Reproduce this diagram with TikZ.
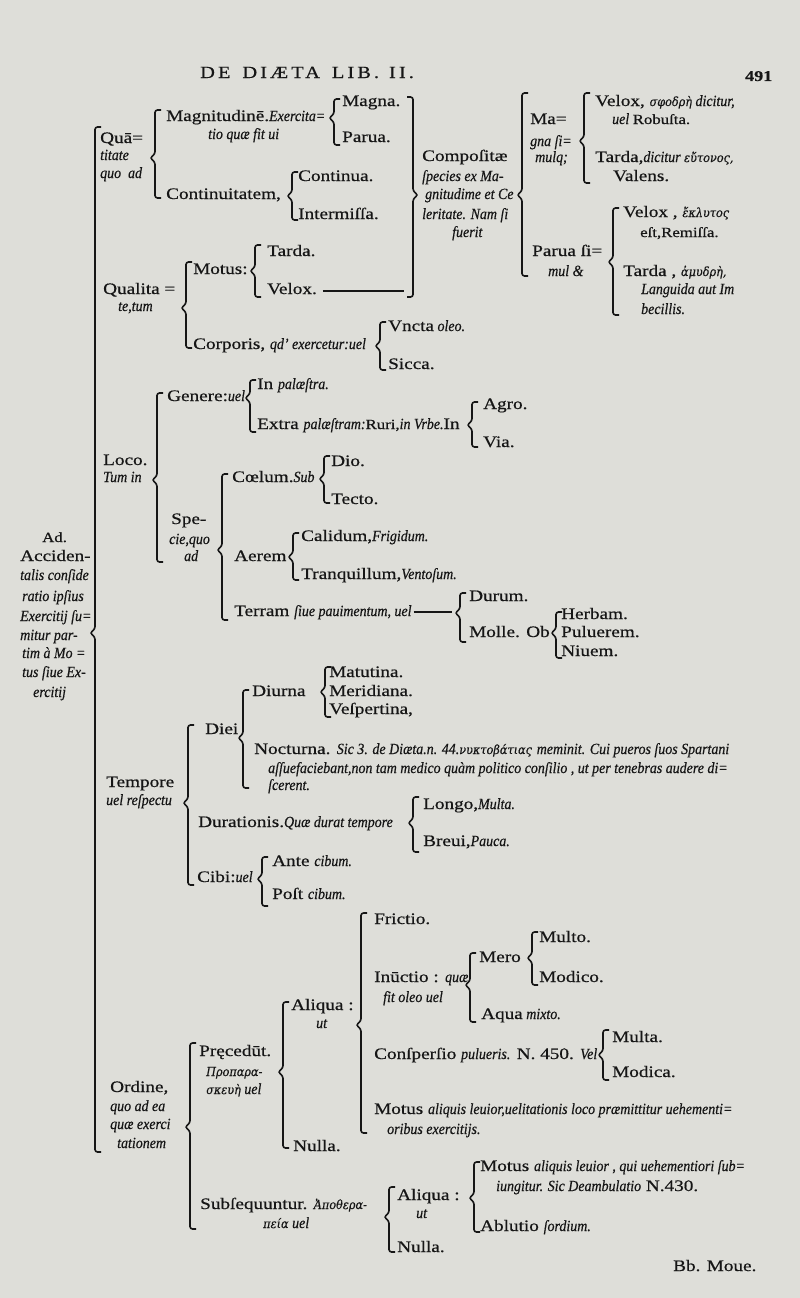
\documentclass[tikz,border=0pt]{standalone}
\usepackage{fontspec}
\setmainfont{Liberation Serif}[FakeStretch=1.2,FakeBold=0.6]
\newfontfamily\itf{Liberation Serif}[FakeStretch=0.9,FakeBold=0.5]
\newfontfamily\grf{DejaVu Serif}[FakeStretch=0.9,FakeBold=0.4]
\newcommand\I[1]{{\itf\itshape\fontsize{15.5}{18}\selectfont #1}}
\newcommand\G[1]{{\grf\itshape\fontsize{12.5}{15}\selectfont #1}}
\newcommand\Rs[1]{{\fontsize{14}{16}\selectfont #1}}
\definecolor{paper}{RGB}{222,222,217}
\definecolor{ink}{RGB}{22,22,22}
\tikzset{
  t/.style={anchor=base west, inner sep=0pt, font=\fontsize{16}{19}\selectfont, text=ink},
  br/.style={draw=ink, line width=1.6pt, rounded corners=2.5pt},
  rule/.style={draw=ink, line width=1.1pt}
}
\newcommand\T[4]{\node[t] (#1) at (#2,#3) {#4};}
\newcommand\brL[4]{\draw[br] (#1+6,#2) -- (#1,#2) -- (#1,#4-4) -- (#1-5,#4) -- (#1,#4+4) -- (#1,#3) -- (#1+6,#3);}
\newcommand\brR[4]{\draw[br] (#1-6,#2) -- (#1,#2) -- (#1,#4-4) -- (#1+5,#4) -- (#1,#4+4) -- (#1,#3) -- (#1-6,#3);}
\begin{document}
\begin{tikzpicture}[x=1pt,y=-1pt]
\fill[paper] (0,0) rectangle (800,1298);
\useasboundingbox (0,0) rectangle (800,1298);
% header
\node[t,font=\fontsize{17}{20}\selectfont\addfontfeatures{LetterSpace=18}] (hdr) at (200,78) {DE\hspace{12pt}DIÆTA\hspace{12pt}LIB.\hspace{10pt}II.};
\node[t,font=\bfseries\fontsize{15}{18}\selectfont] (pg) at (745,81) {491};
% left column
\T{ad1}{42}{542}{\Rs{Ad.}}
\T{ad2}{20}{561}{Acciden-}
\T{ad3}{20}{580}{\I{talis conſide}}
\T{ad4}{22}{601}{\I{ratio ipſius}}
\T{ad5}{20}{621}{\I{Exercitij ſu=}}
\T{ad6}{20}{640}{\I{mitur par-}}
\T{ad7}{22}{658}{\I{tim à Mo =}}
\T{ad8}{22}{677}{\I{tus ſiue Ex-}}
\T{ad9}{33}{697}{\I{ercitij}}
% Quantitate
\T{q1}{100}{143}{Quā=}
\T{q2}{100}{160}{\I{titate}}
\T{q3}{100}{178}{\I{quo\ \ ad}}
\T{mg1}{166}{121}{Magnitudinē.\I{Exercita=}}
\T{mg2}{208}{139}{\I{tio quæ fit ui}}
\T{magna}{342}{106}{Magna.}
\T{parua}{342}{142}{Parua.}
\T{cont}{166}{199}{Continuitatem,}
\T{conta}{298}{181}{Continua.}
\T{inter}{298}{219}{Intermiſſa.}
% Compositae
\T{c1}{422}{161}{Compoſitæ}
\T{c2}{422}{181}{\I{ſpecies ex Ma-}}
\T{c3}{425}{199}{\I{gnitudime et Ce}}
\T{c4}{422}{219}{\I{leritate. Nam ſi}}
\T{c5}{452}{237}{\I{fuerit}}
\T{ma1}{530}{124}{Ma=}
\T{ma2}{530}{146}{\I{gna ſi=}}
\T{ma3}{535}{162}{\I{mulq;}}
\T{v1}{595}{106}{Velox, \G{σφοδρὴ}\I{ dicitur,}}
\T{v2}{612}{124}{\I{uel }\Rs{Robuſta.}}
\T{t1}{595}{162}{Tarda,\I{dicitur }\G{εὔτονος,}}
\T{t2}{613}{181}{Valens.}
\T{pa1}{532}{256}{Parua ſi=}
\T{pa2}{548}{276}{\I{mul \&}}
\T{vx}{623}{217}{Velox , \G{ἔκλυτος}}
\T{vx2}{640}{237}{\Rs{eſt,Remiſſa.}}
\T{td}{623}{276}{Tarda , \G{ἀμυδρὴ,}}
\T{td2}{641}{294}{\I{Languida aut Im}}
\T{td3}{641}{314}{\I{becillis.}}
% Qualitate
\T{ql1}{103}{294}{Qualita =}
\T{ql2}{118}{311}{\I{te,tum}}
\T{mot}{193}{274}{Motus:}
\T{tar}{267}{256}{Tarda.}
\T{vel}{267}{294}{Velox.}
\coordinate (velend) at (404,291);
\draw[rule] ([xshift=6pt,yshift=3pt]vel.base east) -- (velend);
\T{corp}{193}{349}{Corporis, \I{qd’ exercetur:uel}}
\T{vnc}{388}{331}{Vncta\I{ oleo.}}
\T{sic}{388}{369}{Sicca.}
% Loco
\T{inp}{257}{389}{In \I{palæſtra.}}
\T{gen}{167}{401}{Genere:\I{uel}}
\T{ext}{257}{429}{Extra \I{palæſtram:}\Rs{Ruri,}\I{in Vrbe.}In}
\T{agro}{483}{409}{Agro.}
\T{via}{483}{447}{Via.}
\T{lo1}{103}{465}{Loco.}
\T{lo2}{103}{482}{\I{Tum in}}
\T{dio}{331}{466}{Dio.}
\T{coe}{232}{482}{Cœlum.\I{Sub}}
\T{tec}{331}{504}{Tecto.}
\T{sp1}{171}{524}{Spe-}
\T{sp2}{169}{544}{\I{cie,quo}}
\T{sp3}{184}{561}{\I{ad}}
\T{cal}{301}{541}{Calidum,\I{Frigidum.}}
\T{aer}{234}{561}{Aerem}
\T{tra}{301}{579}{Tranquillum,\I{Ventoſum.}}
\T{dur}{469}{601}{Durum.}
\T{ter}{234}{616}{Terram \I{ſiue pauimentum, uel}}
\coordinate (tertip) at (452,612);
\draw[rule] ([xshift=2pt,yshift=4pt]ter.base east) -- (tertip);
\T{her}{561}{619}{Herbam.}
\T{mol}{469}{637}{Molle. Ob}
\T{pul}{561}{637}{Puluerem.}
\T{niu}{561}{656}{Niuem.}
% Tempore
\T{mat}{329}{677}{Matutina.}
\T{diu}{252}{696}{Diurna}
\T{mer}{329}{696}{Meridiana.}
\T{ves}{329}{714}{Veſpertina,}
\T{diei}{205}{734}{Diei}
\T{noc}{254}{754}{Nocturna. \I{Sic 3. de Diæta.n. 44.}\G{νυκτοβάτιας} \I{meminit. Cui pueros ſuos Spartani}}
\T{noc2}{268}{773}{\I{aſſuefaciebant,non tam medico quàm politico conſilio , ut per tenebras audere di=}}
\T{noc3}{268}{790}{\I{ſcerent.}}
\T{te1}{106}{787}{Tempore}
\T{te2}{106}{805}{\I{uel reſpectu}}
\T{lon}{423}{809}{Longo,\I{Multa.}}
\T{dura}{198}{827}{Durationis.\I{Quæ durat tempore}}
\T{bre}{423}{846}{Breui,\I{Pauca.}}
\T{ant}{272}{866}{Ante \I{cibum.}}
\T{cib}{197}{882}{Cibi:\I{uel}}
\T{pos}{272}{899}{Poſt \I{cibum.}}
% Ordine
\T{fri}{374}{924}{Frictio.}
\T{mul}{539}{942}{Multo.}
\T{mero}{479}{962}{Mero}
\T{mod}{539}{982}{Modico.}
\T{inu}{374}{982}{Inūctio : \I{quæ}}
\T{inu2}{383}{1002}{\I{fit oleo uel}}
\T{aqu}{481}{1019}{Aqua\I{ mixto.}}
\T{ali}{291}{1010}{Aliqua :}
\T{ali2}{316}{1028}{\I{ut}}
\T{mlt}{612}{1042}{Multa.}
\T{con}{374}{1059}{Conſperſio \I{pulueris.} N. 450. \I{Vel}}
\T{mdc}{612}{1077}{Modica.}
\T{pre}{199}{1056}{Pręcedūt.}
\T{pre2}{206}{1076}{\G{Προπαρα-}}
\T{pre3}{206}{1094}{\G{σκευὴ}\I{ uel}}
\T{or1}{110}{1092}{Ordine,}
\T{or2}{110}{1111}{\I{quo ad ea}}
\T{or3}{110}{1129}{\I{quæ exerci}}
\T{or4}{117}{1148}{\I{tationem}}
\T{motl}{374}{1114}{Motus \I{aliquis leuior,uelitationis loco præmittitur uehementi=}}
\T{motl2}{387}{1134}{\I{oribus exercitijs.}}
\T{nul}{293}{1151}{Nulla.}
\T{sm1}{480}{1171}{Motus \I{aliquis leuior , qui uehementiori ſub=}}
\T{sm2}{496}{1191}{\I{iungitur. Sic Deambulatio} N.430.}
\T{sal}{397}{1200}{Aliqua :}
\T{sub}{200}{1209}{Subſequuntur. \G{Ἀποθερα-}}
\T{sal2}{416}{1218}{\I{ut}}
\T{sub2}{263}{1228}{\G{πεία}\I{ uel}}
\T{abl}{480}{1231}{Ablutio \I{ſordium.}}
\T{snu}{397}{1252}{Nulla.}
\T{bb}{673}{1271}{Bb. Moue.}
% braces
\brL{95}{127}{1152}{633}
\brL{155}{110}{198}{158}
\brL{334}{99}{145}{118}
\brL{292}{172}{220}{196}
\brR{413}{97}{297}{195}
\brL{522}{93}{276}{195}
\brL{584}{93}{183}{141}
\brL{613}{208}{315}{262}
\brL{186}{262}{348}{308}
\brL{255}{245}{297}{271}
\brL{380}{322}{370}{346}
\brL{157}{393}{562}{480}
\brL{250}{380}{432}{398}
\brL{472}{402}{447}{425}
\brL{222}{474}{620}{550}
\brL{324}{456}{503}{479}
\brL{293}{533}{580}{557}
\brL{460}{593}{642}{613}
\brL{556}{612}{658}{633}
\brL{188}{725}{885}{803}
\brL{243}{690}{788}{738}
\brL{325}{667}{717}{692}
\brL{413}{797}{852}{823}
\brL{262}{857}{906}{879}
\brL{190}{1043}{1229}{1127}
\brL{283}{1002}{1148}{1072}
\brL{361}{913}{1133}{1025}
\brL{470}{953}{1022}{985}
\brL{532}{932}{985}{958}
\brL{603}{1030}{1080}{1055}
\brL{389}{1187}{1252}{1217}
\brL{474}{1162}{1232}{1198}
\end{tikzpicture}
\end{document}
